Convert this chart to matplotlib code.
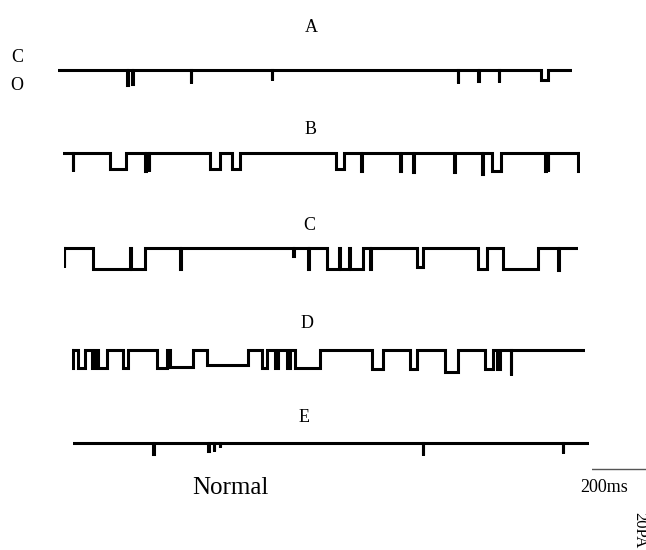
import matplotlib
matplotlib.use("Agg")
from matplotlib import pyplot as plt

plt.rcParams["font.family"] = ["Liberation Serif", "DejaVu Serif"]

# single-channel records, closed level = 0 pA, openings go downward
# each event: (start ms, end ms, amplitude pA)
trace_names = ["A", "B", "C", "D", "E"]
durations = [1869, 1880, 1869, 1867, 1875]

events_a = [(251, 253, -5.4), (269, 271, -5.0), (482, 484, -4.7), (777, 779, -3.6),
            (1454, 1456, -4.7), (1529, 1531, -4.0), (1602, 1604, -4.3), (1755, 1780, -3.6)]
events_b = [(36, 38, -6.5), (171, 229, -5.8), (299, 301, -6.5), (312, 314, -6.5),
            (535, 571, -5.8), (615, 644, -5.8), (994, 1023, -5.8), (1084, 1086, -6.5),
            (1226, 1228, -6.5), (1273, 1275, -7.0), (1422, 1424, -7.0), (1524, 1526, -7.5),
            (1560, 1591, -6.5), (1754, 1756, -6.5), (1762, 1764, -6.5), (1873, 1875, -6.5)]
events_c = [(0, 1, -7.0), (105, 239, -7.5), (242, 295, -7.5), (423, 425, -7.5),
            (834, 836, -3.0), (888, 890, -7.5), (957, 1001, -7.5), (1004, 1037, -7.5),
            (1040, 1088, -7.5), (1114, 1116, -7.5), (1284, 1306, -7.0), (1507, 1540, -7.5),
            (1598, 1725, -7.5), (1798, 1800, -8.0)]
events_d = [(0, 3, -6.5), (22, 47, -6.5), (73, 84, -6.5), (95, 127, -6.5),
            (186, 204, -6.5), (309, 346, -6.5), (357, 440, -6.0), (491, 640, -5.5),
            (692, 710, -6.5), (739, 750, -6.5), (783, 794, -6.5), (812, 903, -6.5),
            (1092, 1132, -7.0), (1230, 1256, -7.0), (1358, 1405, -8.0), (1503, 1532, -7.0),
            (1547, 1558, -7.0), (1595, 1597, -9.0)]
events_e = [(292, 294, -4.0), (492, 493, -3.0), (511, 512, -3.0), (535, 536, -1.5),
            (1271, 1273, -4.3), (1781, 1783, -3.6)]
all_events = [events_a, events_b, events_c, events_d, events_e]

W, H = 646, 550
fig = plt.figure(figsize=(W / 100, H / 100), dpi=100)

# layout in pixels: trace start x, baseline y, label position
starts = [58, 63, 64, 72, 73]
baselines = [70, 153, 248, 350, 443]
label_pos = [(311, 28), (311, 130), (309, 226), (307, 324), (304, 417)]
ms_per_px = 200 / 55
pa_per_px = 0.36
ax_h = 40
top_pad = 2.4

for name, dur, ev, x0, base, (lx, ly) in zip(trace_names, durations, all_events,
                                              starts, baselines, label_pos):
    xs, ys = [0], [0]
    for s, e, a in ev:
        xs += [s, s, e, e]
        ys += [0, a, a, 0]
    xs.append(dur)
    ys.append(0)
    width_px = dur / ms_per_px
    top = base - top_pad / pa_per_px
    ax = fig.add_axes([x0 / W, 1 - (top + ax_h) / H, width_px / W, ax_h / H])
    ax.plot(xs, ys, color="black", lw=2.2, solid_joinstyle="miter")
    ax.set_xlim(0, dur)
    ax.set_ylim(top_pad - ax_h * pa_per_px, top_pad)
    ax.axis("off")
    fig.text(lx / W, 1 - ly / H, name, ha="center", va="center", fontsize=13)

fig.text(17 / W, 1 - 58 / H, "C", ha="center", va="center", fontsize=13)
fig.text(17 / W, 1 - 86 / H, "O", ha="center", va="center", fontsize=13)
fig.text(230 / W, 1 - 488 / H, "Normal", ha="center", va="center", fontsize=18)

# 200 ms scale bar
sb = fig.add_axes([592 / W, 1 - 471 / H, 54 / W, 4 / H])
sb.plot([0, 200 * 54 / 55], [0, 0], color="#555555", lw=1.0)
sb.set_xlim(0, 200 * 54 / 55)
sb.set_ylim(-1, 1)
sb.axis("off")
fig.text(604 / W, 1 - 487 / H, "200ms", ha="center", va="center", fontsize=13)
fig.text(639 / W, 1 - 530 / H, "20PA", ha="center", va="center", fontsize=12, rotation=-90)

fig.savefig("out.png", dpi=100)
